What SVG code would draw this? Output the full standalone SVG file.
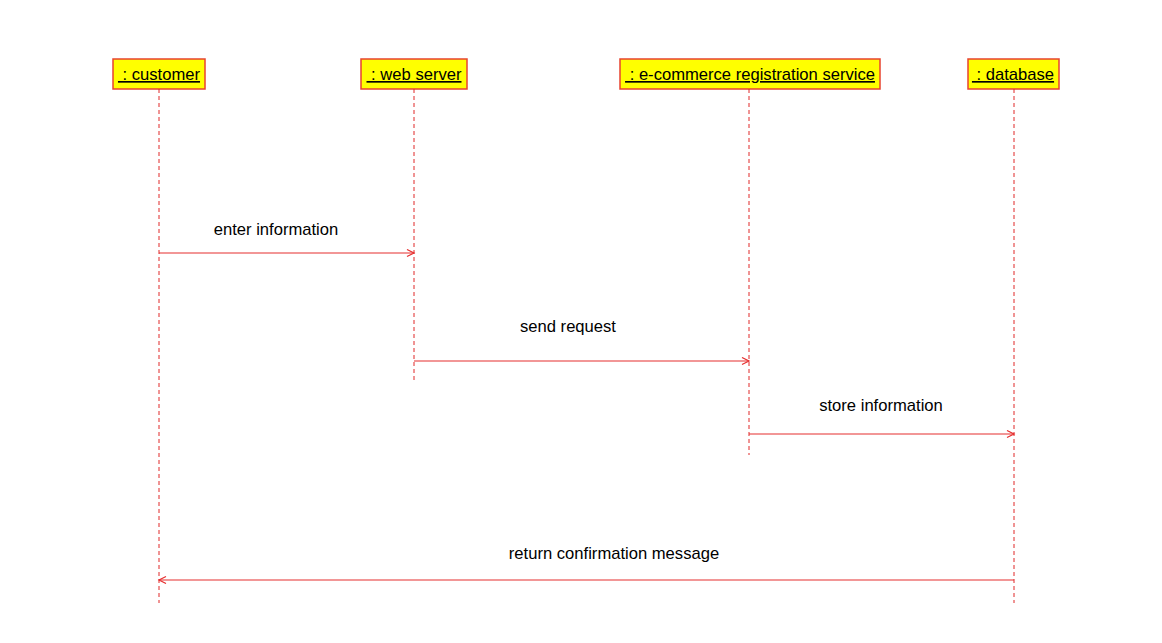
<svg xmlns="http://www.w3.org/2000/svg" width="1162" height="643" viewBox="0 0 1162 643">
<style>
.box{fill:#ffff00;stroke:#e8432f;stroke-width:1.5}
.bt{font-family:"Liberation Sans",Arial,sans-serif;font-size:16.6px;fill:#000;text-decoration:underline;text-anchor:middle}
.life{stroke:#e02828;stroke-width:1;stroke-dasharray:4,3;fill:none}
.msg{stroke:#e62e2e;stroke-width:1.2;fill:none}
.lbl{font-family:"Liberation Sans",Arial,sans-serif;font-size:16.6px;fill:#000;text-anchor:middle}
</style>
<defs>
<marker id="ah" markerWidth="10" markerHeight="10" refX="8" refY="4" orient="auto" markerUnits="userSpaceOnUse">
<path d="M1,0.5 L8,4 L1,7.5" fill="none" stroke="#e62e2e" stroke-width="1.2"/>
</marker>
</defs>
<rect width="1162" height="643" fill="#fff"/>
<g id="customer">
<rect class="box" x="113" y="59" width="92" height="30"/>
<text class="bt" x="159" y="80" xml:space="preserve"> : customer</text>
<line class="life" x1="159" y1="89" x2="159" y2="603"/>
</g>
<g id="webserver">
<rect class="box" x="361" y="59" width="106" height="30"/>
<text class="bt" x="414" y="80" xml:space="preserve"> : web server</text>
<line class="life" x1="414" y1="89" x2="414" y2="383"/>
</g>
<g id="registration">
<rect class="box" x="620" y="59" width="260" height="30"/>
<text class="bt" x="750" y="80" xml:space="preserve"> : e-commerce registration service</text>
<line class="life" x1="749" y1="89" x2="749" y2="455"/>
</g>
<g id="database">
<rect class="box" x="968" y="59" width="91" height="30"/>
<text class="bt" x="1013" y="80" xml:space="preserve"> : database</text>
<line class="life" x1="1014" y1="89" x2="1014" y2="603"/>
</g>
<g id="connectors">
<line class="msg" x1="159" y1="253" x2="414" y2="253" marker-end="url(#ah)"/>
<text class="lbl" x="276" y="235">enter information</text>
<line class="msg" x1="414" y1="361" x2="749" y2="361" marker-end="url(#ah)"/>
<text class="lbl" x="568" y="332">send request</text>
<line class="msg" x1="749" y1="434" x2="1014" y2="434" marker-end="url(#ah)"/>
<text class="lbl" x="881" y="411">store information</text>
<line class="msg" x1="1014" y1="580" x2="159" y2="580" marker-end="url(#ah)"/>
<text class="lbl" x="614" y="559">return confirmation message</text>
</g>
</svg>
